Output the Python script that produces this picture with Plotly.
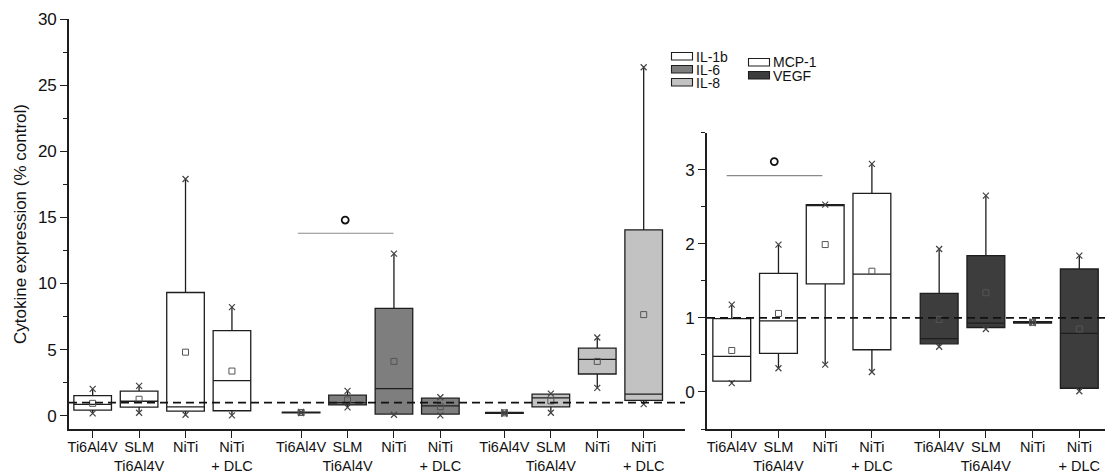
import plotly.graph_objects as go

# ---- categories ----
materials = ["Ti6Al4V", "SLM<br>Ti6Al4V", "NiTi", "NiTi<br>+ DLC"]

# ---- interleukins (left panel) ----
il1b_min = [0.18, 0.23, 0.08, 0.03]
il1b_q1 = [0.42, 0.65, 0.35, 0.38]
il1b_med = [0.86, 1.10, 0.68, 2.66]
il1b_q3 = [1.53, 1.86, 9.32, 6.44]
il1b_max = [2.03, 2.26, 17.9, 8.22]
il1b_mean = [0.94, 1.25, 4.81, 3.38]

il6_min = [0.20, 0.63, 0.08, 0.03]
il6_q1 = [0.22, 0.82, 0.13, 0.13]
il6_med = [0.25, 1.00, 2.06, 0.75]
il6_q3 = [0.28, 1.56, 8.12, 1.33]
il6_max = [0.30, 1.88, 12.26, 1.40]
il6_mean = [0.25, 1.20, 4.11, 0.68]

il8_min = [0.15, 0.23, 2.11, 0.88]
il8_q1 = [0.19, 0.68, 3.16, 1.16]
il8_med = [0.22, 1.35, 4.26, 1.63]
il8_q3 = [0.25, 1.63, 5.11, 14.06]
il8_max = [0.28, 1.68, 5.92, 26.35]
il8_mean = [0.22, 1.13, 4.11, 7.65]

# ---- MCP-1 / VEGF (right panel) ----
mcp1_min = [0.12, 0.32, 0.37, 0.27]
mcp1_q1 = [0.145, 0.52, 1.46, 0.57]
mcp1_med = [0.48, 0.96, 2.53, 1.59]
mcp1_q3 = [0.99, 1.60, 2.53, 2.68]
mcp1_max = [1.18, 1.99, 2.53, 3.08]
mcp1_mean = [0.56, 1.06, 1.99, 1.63]

vegf_min = [0.61, 0.85, 0.93, 0.01]
vegf_q1 = [0.65, 0.87, 0.93, 0.05]
vegf_med = [0.72, 0.93, 0.94, 0.79]
vegf_q3 = [1.33, 1.84, 0.95, 1.66]
vegf_max = [1.93, 2.65, 0.95, 1.84]
vegf_mean = [0.98, 1.34, 0.94, 0.85]

control_level = 1.0

# significance marks: (x start, x end, bar y, symbol x, symbol y)
sig_left = [4.42, 6.48, 13.8, 5.44, 14.8]
sig_right = [-0.11, 1.94, 2.92, 0.91, 3.11]

# ---- layout helpers ----
W, H = 1106, 476
SLOT = [0, 1, 2, 3]
LEFT_GROUP_START = [0.0, 4.49, 8.87]
RIGHT_GROUP_START = [0.0, 4.44]
BOX_W = 0.81
LINE_COL = "#1e1e1e"
TEXT_COL = "#111111"
FONT = "Liberation Sans, Arial, sans-serif"


def px_x(p):
    return p / W


def px_y(p):
    return (H - p) / H


fig = go.Figure()


def add_series(start, mins, q1, med, q3, maxs, means, fill, xa, ya):
    xs = [start + s for s in SLOT]
    for i, x in enumerate(xs):
        fig.add_trace(go.Box(
            x=[x], q1=[q1[i]], median=[med[i]], q3=[q3[i]],
            lowerfence=[mins[i]], upperfence=[maxs[i]],
            width=BOX_W, whiskerwidth=0, fillcolor=fill,
            line=dict(color=LINE_COL, width=1.3),
            boxpoints=False, hoverinfo="skip", showlegend=False,
            xaxis=xa, yaxis=ya,
        ))
    fig.add_trace(go.Scatter(
        x=xs + xs, y=list(mins) + list(maxs), mode="markers",
        marker=dict(symbol="x-thin", size=6, color="#444444",
                    line=dict(color="#444444", width=1.2)),
        showlegend=False, hoverinfo="skip", xaxis=xa, yaxis=ya,
    ))
    fig.add_trace(go.Scatter(
        x=xs, y=means, mode="markers",
        marker=dict(symbol="square-open", size=6, color="#555555",
                    line=dict(color="#555555", width=1)),
        showlegend=False, hoverinfo="skip", xaxis=xa, yaxis=ya,
    ))
    return xs


fill_il1b, fill_il6, fill_il8 = "#ffffff", "#7e7e7e", "#c2c2c2"
fill_mcp1, fill_vegf = "#ffffff", "#3d3d3d"

left_ticks = []
left_ticks += add_series(LEFT_GROUP_START[0], il1b_min, il1b_q1, il1b_med, il1b_q3, il1b_max, il1b_mean, fill_il1b, "x", "y")
left_ticks += add_series(LEFT_GROUP_START[1], il6_min, il6_q1, il6_med, il6_q3, il6_max, il6_mean, fill_il6, "x", "y")
left_ticks += add_series(LEFT_GROUP_START[2], il8_min, il8_q1, il8_med, il8_q3, il8_max, il8_mean, fill_il8, "x", "y")

right_ticks = []
right_ticks += add_series(RIGHT_GROUP_START[0], mcp1_min, mcp1_q1, mcp1_med, mcp1_q3, mcp1_max, mcp1_mean, fill_mcp1, "x2", "y2")
right_ticks += add_series(RIGHT_GROUP_START[1], vegf_min, vegf_q1, vegf_med, vegf_q3, vegf_max, vegf_mean, fill_vegf, "x2", "y2")

# significance symbols
for sig, xa, ya in ((sig_left, "x", "y"), (sig_right, "x2", "y2")):
    fig.add_trace(go.Scatter(
        x=[sig[3]], y=[sig[4]], mode="markers",
        marker=dict(symbol="circle-open", size=7, color=TEXT_COL,
                    line=dict(color=TEXT_COL, width=1.8)),
        showlegend=False, hoverinfo="skip", xaxis=xa, yaxis=ya,
    ))

shapes = []
# control level dashed lines
for xr, yr in (("x domain", "y"), ("x2 domain", "y2")):
    shapes.append(dict(type="line", xref=xr, yref=yr, x0=0, x1=1,
                       y0=control_level, y1=control_level, layer="above",
                       line=dict(color=TEXT_COL, width=1.8, dash="8px,5px")))
# significance bars
for sig, xr, yr in ((sig_left, "x", "y"), (sig_right, "x2", "y2")):
    shapes.append(dict(type="line", xref=xr, yref=yr, x0=sig[0], x1=sig[1],
                       y0=sig[2], y1=sig[2], line=dict(color="#8a8a8a", width=1.2)))

# legends
annotations = []
legend_items = [
    ("IL-1b", fill_il1b, 671.5, 52.5),
    ("IL-6", fill_il6, 671.5, 65.5),
    ("IL-8", fill_il8, 671.5, 78.5),
    ("MCP-1", fill_mcp1, 748.5, 58.5),
    ("VEGF", fill_vegf, 748.5, 71.5),
]
for name, col, lx, ly in legend_items:
    shapes.append(dict(type="rect", xref="paper", yref="paper",
                       x0=px_x(lx), x1=px_x(lx + 21), y0=px_y(ly), y1=px_y(ly + 7.5),
                       fillcolor=col, line=dict(color=LINE_COL, width=1.1)))
    annotations.append(dict(xref="paper", yref="paper", x=px_x(lx + 22), y=px_y(ly + 4),
                            text=name, showarrow=False, xanchor="left", yanchor="middle",
                            font=dict(family=FONT, size=14, color=TEXT_COL)))

# y-axis title
annotations.append(dict(xref="paper", yref="paper", x=px_x(20), y=px_y(224),
                        text="Cytokine expression (% control)", textangle=-90,
                        showarrow=False, xanchor="center", yanchor="middle",
                        font=dict(family=FONT, size=17, color=TEXT_COL)))

axis_common = dict(showline=True, linecolor=LINE_COL, linewidth=1.6, showgrid=False,
                   zeroline=False, ticks="outside", ticklen=7, tickwidth=1.4,
                   tickcolor=LINE_COL, automargin=False)

xtick_font = dict(family=FONT, size=14.5, color=TEXT_COL)
ytick_font = dict(family=FONT, size=17, color=TEXT_COL)

fig.update_layout(
    width=W, height=H,
    margin=dict(l=0, r=0, t=0, b=0),
    paper_bgcolor="white", plot_bgcolor="white",
    boxmode="overlay",
    showlegend=False,
    xaxis=dict(axis_common, domain=[px_x(69), px_x(685)], range=[-0.51, 12.76],
               tickmode="array", tickvals=left_ticks, ticktext=materials * 3,
               tickangle=0, tickfont=xtick_font, ticklabelstandoff=-3, anchor="y"),
    yaxis=dict(axis_common, domain=[px_y(429), px_y(19)], range=[-1, 30],
               tickmode="linear", tick0=0, dtick=5, anchor="x", tickfont=ytick_font,
               minor=dict(ticks="outside", dtick=2.5, ticklen=4, tickwidth=1.2, tickcolor=LINE_COL)),
    xaxis2=dict(axis_common, domain=[px_x(707), px_x(1105)], range=[-0.53, 7.99],
                tickmode="array", tickvals=right_ticks, ticktext=materials * 2,
                tickangle=0, tickfont=xtick_font, ticklabelstandoff=-3, anchor="y2"),
    yaxis2=dict(axis_common, domain=[px_y(429), px_y(132.7)], range=[-0.5, 3.5],
                tickmode="linear", tick0=0, dtick=1, anchor="x2", tickfont=ytick_font,
                minor=dict(ticks="outside", dtick=0.5, ticklen=4, tickwidth=1.2, tickcolor=LINE_COL)),
    shapes=shapes,
    annotations=annotations,
)

fig.write_html("out.html")
